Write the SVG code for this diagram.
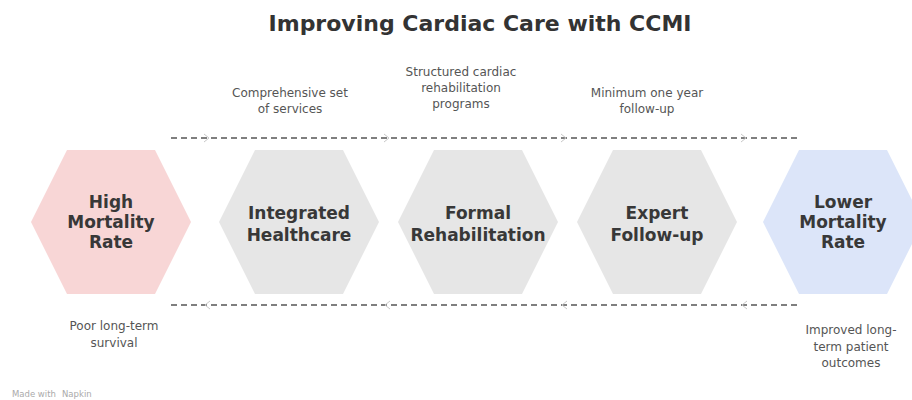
<svg xmlns="http://www.w3.org/2000/svg" width="912" height="400" viewBox="0 0 912 400">
  <defs>
    <style>
      .title { font-family: "DejaVu Sans", "Liberation Sans", sans-serif; font-weight: bold; font-size: 22px; fill: #333; }
      .node-text { font-family: "DejaVu Sans", "Liberation Sans", sans-serif; font-weight: bold; font-size: 17px; fill: #383838; text-anchor: middle; }
      .note { font-family: "DejaVu Sans", "Liberation Sans", sans-serif; font-size: 12px; fill: #555; text-anchor: middle; }
      .credit { font-family: "DejaVu Sans", "Liberation Sans", sans-serif; font-size: 8.5px; fill: #aaa; }
      .dash { stroke: #555; stroke-width: 1.6; stroke-dasharray: 6 4; fill: none; }
      .tip { stroke: #c8c8c8; stroke-width: 1; fill: none; }
      .pink { fill: #f8d6d6; }
      .grey { fill: #e6e6e6; }
      .blue { fill: #dce5f9; }
    </style>
    <!-- flat-topped hexagon centred on the origin -->
    <polygon id="hex" points="-80,0 -44,-72 44,-72 80,0 44,72 -44,72"/>
  </defs>

  <rect width="912" height="400" fill="#ffffff"/>

  <text class="title" x="480" y="31" text-anchor="middle">Improving Cardiac Care with CCMI</text>

  <!-- connectors -->
  <g id="connectors">
    <line class="dash" x1="171" y1="138" x2="797" y2="138"/>
    <line class="dash" x1="171" y1="305" x2="797" y2="305"/>
    <path class="tip" d="M204,134 L209,138 L204,142 M384,134 L389,138 L384,142 M561,134 L566,138 L561,142 M741,134 L746,138 L741,142"/>
    <path class="tip" d="M210,301 L205,305 L210,309 M390,301 L385,305 L390,309 M567,301 L562,305 L567,309 M747,301 L742,305 L747,309"/>
  </g>

  <g id="high-mortality">
    <use href="#hex" class="pink" x="111" y="222"/>
    <text class="node-text" x="111" y="208">High</text>
    <text class="node-text" x="111" y="228">Mortality</text>
    <text class="node-text" x="111" y="248">Rate</text>
  </g>

  <g id="integrated-healthcare">
    <use href="#hex" class="grey" x="299" y="222"/>
    <text class="node-text" x="299" y="219">Integrated</text>
    <text class="node-text" x="299" y="241">Healthcare</text>
  </g>

  <g id="formal-rehabilitation">
    <use href="#hex" class="grey" x="478" y="222"/>
    <text class="node-text" x="478" y="219">Formal</text>
    <text class="node-text" x="478" y="241">Rehabilitation</text>
  </g>

  <g id="expert-follow-up">
    <use href="#hex" class="grey" x="657" y="222"/>
    <text class="node-text" x="657" y="219">Expert</text>
    <text class="node-text" x="657" y="241">Follow-up</text>
  </g>

  <g id="lower-mortality">
    <use href="#hex" class="blue" x="843" y="222"/>
    <text class="node-text" x="843" y="208">Lower</text>
    <text class="node-text" x="843" y="228">Mortality</text>
    <text class="node-text" x="843" y="248">Rate</text>
  </g>

  <!-- annotations -->
  <g id="notes">
    <text class="note" x="290" y="97">Comprehensive set</text>
    <text class="note" x="290" y="113">of services</text>
    <text class="note" x="461" y="76">Structured cardiac</text>
    <text class="note" x="461" y="92">rehabilitation</text>
    <text class="note" x="461" y="108">programs</text>
    <text class="note" x="647" y="97">Minimum one year</text>
    <text class="note" x="647" y="113">follow-up</text>
    <text class="note" x="114" y="330">Poor long-term</text>
    <text class="note" x="114" y="347">survival</text>
    <text class="note" x="851" y="334">Improved long-</text>
    <text class="note" x="851" y="351">term patient</text>
    <text class="note" x="851" y="367">outcomes</text>
  </g>

  <text class="credit" x="12" y="397">Made with</text>
  <text class="credit" x="62" y="397">Napkin</text>
</svg>
